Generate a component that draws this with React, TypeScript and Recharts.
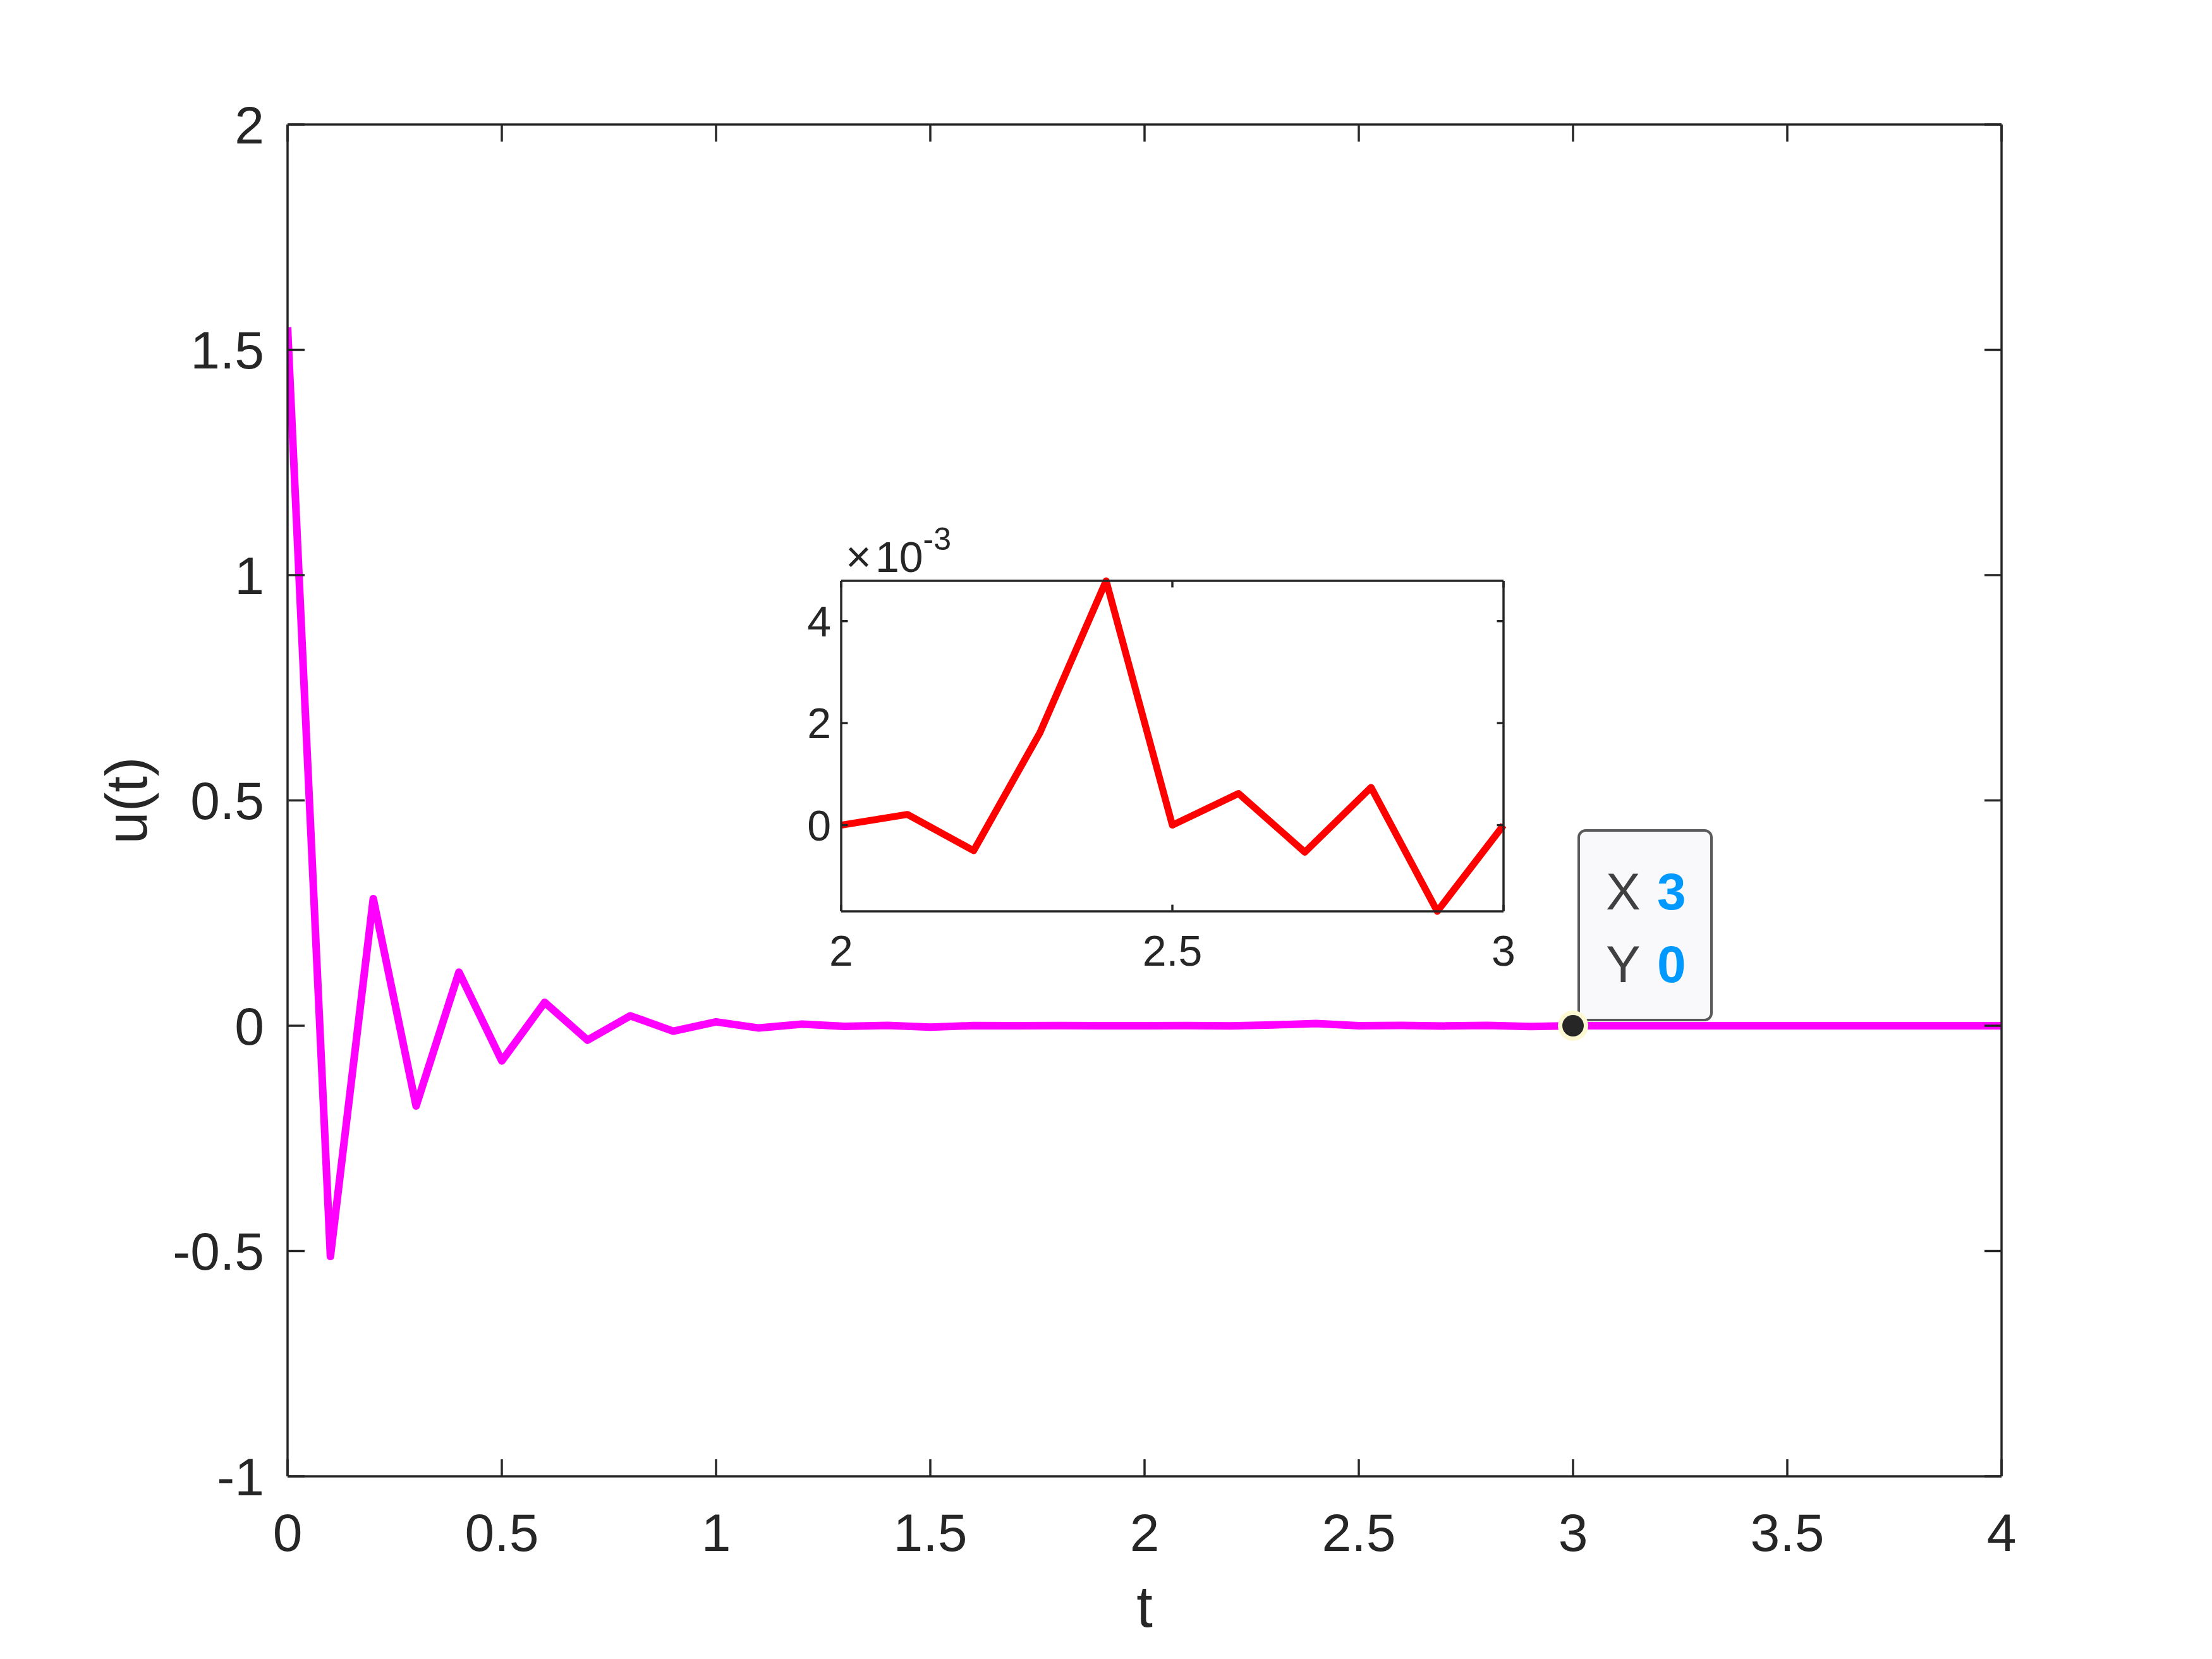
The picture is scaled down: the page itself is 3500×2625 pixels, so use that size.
import React from 'react';
import { LineChart, Line, XAxis, YAxis, ReferenceDot, Label } from 'recharts';

// ---------- data ----------
const tMain = [
  0, 0.1, 0.2, 0.3, 0.4, 0.5, 0.6, 0.7, 0.8, 0.9,
  1, 1.1, 1.2, 1.3, 1.4, 1.5, 1.6, 1.7, 1.8, 1.9,
  2, 2.1, 2.2, 2.3, 2.4, 2.5, 2.6, 2.7, 2.8, 2.9,
  3, 3.1, 3.2, 3.3, 3.4, 3.5, 3.6, 3.7, 3.8, 3.9, 4,
];
// u(t) for t = 0 .. 1.9
const uEarly = [
  1.55, -0.512, 0.282, -0.178, 0.119, -0.078, 0.052, -0.032, 0.022, -0.012,
  0.0086, -0.005, 0.0036, -0.0014, 0.0007, -0.003, 0.0002, 0.0001, 0.0003, 0.0001,
];
// zoomed segment t = 2 .. 3 (inset)
const insetT = [2, 2.1, 2.2, 2.3, 2.4, 2.5, 2.6, 2.7, 2.8, 2.9, 3];
const insetU = [
  0.0, 0.00021, -0.0005, 0.00181, 0.00479, 0.0, 0.00062, -0.00053, 0.00074, -0.00169, 0.0,
];
// u(t) for t = 3.1 .. 4
const uLate = [0, 0, 0, 0, 0, 0, 0, 0, 0, 0];

const mainTicksX = [0, 0.5, 1, 1.5, 2, 2.5, 3, 3.5, 4];
const mainTicksY = [-1, -0.5, 0, 0.5, 1, 1.5, 2];
const insetTicksX = [2, 2.5, 3];
const insetTicksY = [0, 0.002, 0.004];
const insetDomainY = [-0.00169, 0.00479];
const tipPoint = { x: 3, y: 0 };

const uMain = [...uEarly, ...insetU, ...uLate];
const mainData = tMain.map((t, i) => ({ t, u: uMain[i] }));
const insetData = insetT.map((t, i) => ({ t, u: insetU[i] }));

// ---------- style ----------
const FONT = "'Liberation Sans', Arial, Helvetica, sans-serif";
const AX = '#262626';
const axisLineStyle = { stroke: AX, strokeWidth: 3.5 };
const tickLineStyle = { stroke: AX, strokeWidth: 3.5 };
const noTick = () => <g />;

function DataTip(props: any) {
  const { cx, cy } = props;
  if (cx == null || cy == null) return <g />;
  return (
    <g>
      <rect x={cx + 9} y={cy - 309} width={210} height={300} rx={11} ry={11}
        fill="#f9f9fc" stroke="#5a5a5a" strokeWidth={4} />
      <text x={cx + 52} y={cy - 184} fontSize={82} fontFamily={FONT} fill="#404040">X</text>
      <text x={cx + 133} y={cy - 184} fontSize={82} fontFamily={FONT} fontWeight="bold" fill="#0099ff">
        {String(tipPoint.x)}
      </text>
      <text x={cx + 52} y={cy - 69} fontSize={82} fontFamily={FONT} fill="#404040">Y</text>
      <text x={cx + 133} y={cy - 69} fontSize={82} fontFamily={FONT} fontWeight="bold" fill="#0099ff">
        {String(tipPoint.y)}
      </text>
      <circle cx={cx} cy={cy} r={24} fill="#fbf8d2" />
      <circle cx={cx} cy={cy} r={17} fill="#262626" />
    </g>
  );
}

function MainChart() {
  return (
    <LineChart width={3500} height={2625} data={mainData}
      margin={{ top: 0, right: 0, bottom: 0, left: 0 }}>
      <XAxis xAxisId="b" dataKey="t" type="number" domain={[0, 4]} ticks={mainTicksX}
        orientation="bottom" height={289} interval={0} allowDataOverflow
        axisLine={axisLineStyle} tickLine={tickLineStyle} tickSize={-27} tickMargin={85}
        tick={{ fill: AX, fontSize: 84, fontFamily: FONT }} tickFormatter={(v: number) => String(v)}>
        <Label content={(p: any) => {
          const vb = p.viewBox;
          return (
            <text x={vb.x + vb.width / 2} y={vb.y + 238} textAnchor="middle"
              fontSize={92} fontFamily={FONT} fill={AX}>t</text>
          );
        }} />
      </XAxis>
      <XAxis xAxisId="tp" dataKey="t" type="number" domain={[0, 4]} ticks={mainTicksX}
        orientation="top" height={197} interval={0} allowDataOverflow
        axisLine={axisLineStyle} tickLine={tickLineStyle} tickSize={-27} tick={noTick} />
      <YAxis yAxisId="l" type="number" domain={[-1, 2]} ticks={mainTicksY}
        orientation="left" width={455} interval={0}
        axisLine={axisLineStyle} tickLine={tickLineStyle} tickSize={-27} tickMargin={64}
        tick={{ fill: AX, fontSize: 84, fontFamily: FONT }} tickFormatter={(v: number) => String(v)}>
        <Label content={(p: any) => {
          const vb = p.viewBox;
          const x = vb.x + 232;
          const y = vb.y + vb.height / 2;
          return (
            <text x={x} y={y} transform={`rotate(-90, ${x}, ${y})`} textAnchor="middle"
              fontSize={92} fontFamily={FONT} fill={AX}>u(t)</text>
          );
        }} />
      </YAxis>
      <YAxis yAxisId="r" type="number" domain={[-1, 2]} ticks={mainTicksY}
        orientation="right" width={333} interval={0} allowDataOverflow
        axisLine={axisLineStyle} tickLine={tickLineStyle} tickSize={-27} tick={noTick} />
      <Line xAxisId="b" yAxisId="l" type="linear" dataKey="u" stroke="#ff00ff" strokeWidth={12}
        strokeLinejoin="round" dot={false} activeDot={false} isAnimationActive={false} />
      <ReferenceDot xAxisId="b" yAxisId="l" x={tipPoint.x} y={tipPoint.y} r={17}
        shape={(p: any) => <DataTip {...p} />} />
    </LineChart>
  );
}

function InsetChart() {
  return (
    <LineChart width={1300} height={760} data={insetData}
      margin={{ top: 0, right: 0, bottom: 0, left: 0 }}>
      <XAxis xAxisId="b" dataKey="t" type="number" domain={[2, 3]} ticks={insetTicksX}
        orientation="bottom" height={118} interval={0}
        axisLine={axisLineStyle} tickLine={tickLineStyle} tickSize={-10.5} tickMargin={48.5}
        tick={{ fill: AX, fontSize: 68, fontFamily: FONT }} tickFormatter={(v: number) => String(v)} />
      <XAxis xAxisId="tp" dataKey="t" type="number" domain={[2, 3]} ticks={insetTicksX}
        orientation="top" height={119} interval={0} allowDataOverflow
        axisLine={axisLineStyle} tickLine={tickLineStyle} tickSize={-10.5} tick={noTick}>
        <Label content={(p: any) => {
          const vb = p.viewBox;
          return (
            <text x={vb.x + 7} y={vb.y + vb.height - 14} fontFamily={FONT} fill={AX}>
              <tspan fontSize={70}>{'\u00d7'}</tspan>
              <tspan fontSize={68} dx={6}>10</tspan>
              <tspan fontSize={50} dy={-35}>-3</tspan>
            </text>
          );
        }} />
      </XAxis>
      <YAxis yAxisId="l" type="number" domain={insetDomainY} ticks={insetTicksY}
        orientation="left" width={181} interval={0}
        axisLine={axisLineStyle} tickLine={tickLineStyle} tickSize={-10.5} tickMargin={26.5}
        tick={{ fill: AX, fontSize: 68, fontFamily: FONT }}
        tickFormatter={(v: number) => String(Math.round(v * 1000))} />
      <YAxis yAxisId="r" type="number" domain={insetDomainY} ticks={insetTicksY}
        orientation="right" width={71} interval={0} allowDataOverflow
        axisLine={axisLineStyle} tickLine={tickLineStyle} tickSize={-10.5} tick={noTick} />
      <Line xAxisId="b" yAxisId="l" type="linear" dataKey="u" stroke="#ff0000" strokeWidth={11}
        strokeLinejoin="round" dot={false} activeDot={false} isAnimationActive={false} />
    </LineChart>
  );
}

export default function App() {
  return (
    <div style={{ position: 'absolute', left: 0, top: 0, width: 3500, height: 2625, background: '#ffffff' }}>
      <MainChart />
      <div style={{ position: 'absolute', left: 1150, top: 800, width: 1300, height: 760 }}>
        <InsetChart />
      </div>
    </div>
  );
}
